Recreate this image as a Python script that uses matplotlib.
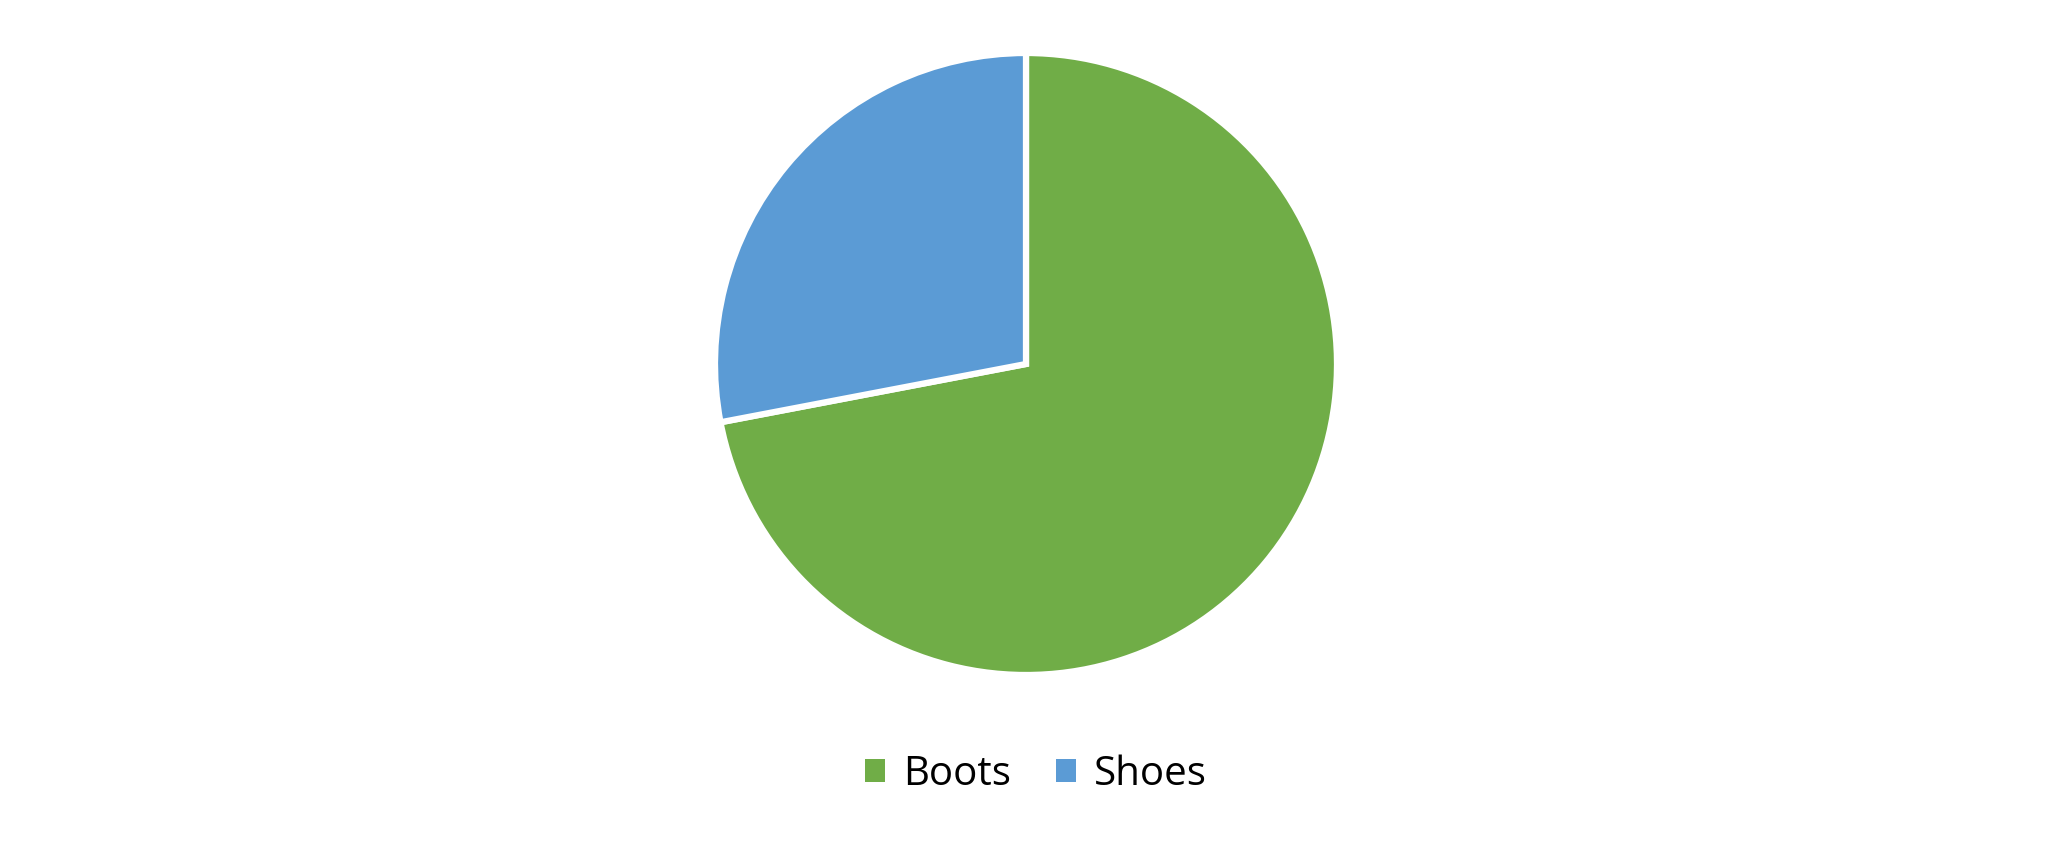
import matplotlib
matplotlib.use("Agg")
import matplotlib.pyplot as plt
from matplotlib.patches import Patch

categories = ["Boots", "Shoes"]
values = [72, 28]
colors = ["#70AD47", "#5B9BD5"]

W, H = 2052, 842
fig = plt.figure(figsize=(W / 100, H / 100), dpi=100)
fig.patch.set_facecolor("white")

cx, cy, r = 1026, 364, 311
ax = fig.add_axes([(cx - r) / W, (H - cy - r) / H, 2 * r / W, 2 * r / H])
ax.pie(values, colors=colors, startangle=90, counterclock=False, radius=1,
       wedgeprops=dict(edgecolor="white", linewidth=4.5))
ax.set_xlim(-1, 1)
ax.set_ylim(-1, 1)
ax.set_aspect("equal")
ax.axis("off")

handles = [Patch(facecolor=c, edgecolor="none") for c in colors]
fig.legend(handles, categories, loc="center", bbox_to_anchor=(1036 / W, 1 - 775 / H),
           ncol=2, frameon=False, prop=dict(family="Open Sans", size=29),
           handlelength=0.5, handleheight=0.5, handletextpad=0.45, columnspacing=1.1)

fig.savefig("out.png", dpi=100, facecolor="white")
